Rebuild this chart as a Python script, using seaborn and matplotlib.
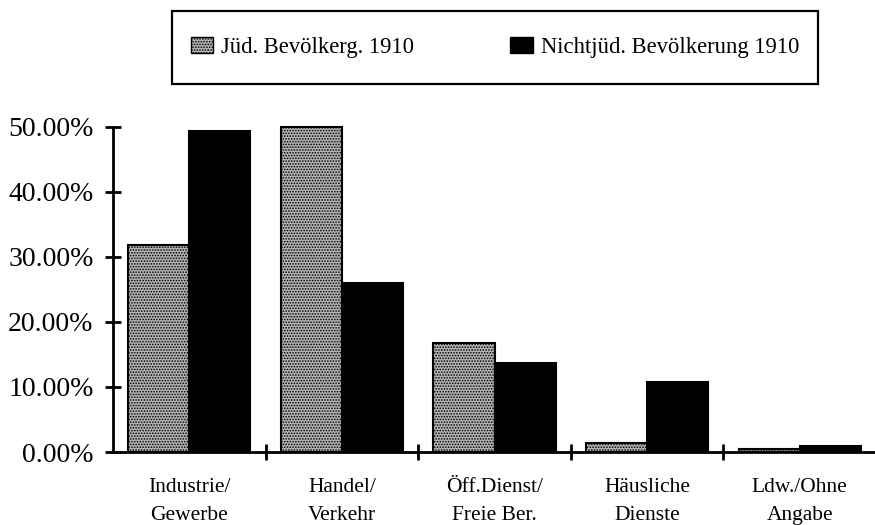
import matplotlib
matplotlib.use("Agg")
import matplotlib.pyplot as plt
from matplotlib.patches import Patch, Rectangle
import seaborn as sns
import pandas as pd
import numpy as np

categories = ["Industrie/\nGewerbe", "Handel/\nVerkehr", "Öff.Dienst/\nFreie Ber.",
              "Häusliche\nDienste", "Ldw./Ohne\nAngabe"]
series_names = ["Jüd. Bevölkerg. 1910", "Nichtjüd. Bevölkerung 1910"]
jued = [31.8, 50.0, 16.8, 1.4, 0.4]
nichtjued = [49.4, 26.0, 13.7, 10.7, 0.9]
y_ticks = [0, 10, 20, 30, 40, 50]
y_tick_labels = ["0.00%", "10.00%", "20.00%", "30.00%", "40.00%", "50.00%"]

df = pd.DataFrame({
    "cat": categories * 2,
    "series": [series_names[0]] * len(categories) + [series_names[1]] * len(categories),
    "value": jued + nichtjued,
})

sns.set_theme(style="white")
plt.rcParams["font.family"] = ["Liberation Serif", "DejaVu Serif"]
plt.rcParams["hatch.linewidth"] = 0.8
plt.rcParams["hatch.color"] = "black"

W, H = 875, 525
fig = plt.figure(figsize=(W / 100, H / 100), dpi=100)
ax = fig.add_axes([113 / W, 1 - 452 / H, 763 / W, (452 - 123.75) / H])

gray = "#b4b4b4"
hatch = "......"
sns.barplot(data=df, x="cat", y="value", hue="series", order=categories,
            hue_order=series_names, palette=[gray, "black"], width=0.8,
            edgecolor="black", linewidth=1.5, ax=ax, legend=False, saturation=1)

for bar in ax.containers[0]:
    bar.set_hatch(hatch)

ax.set_xlim(-0.5, len(categories) - 0.5)
ax.set_ylim(0, 50.5)
ax.set_xlabel("")
ax.set_ylabel("")
ax.set_yticks(y_ticks)
ax.set_yticklabels(y_tick_labels, fontsize=20, color="black")
ax.set_xticks(range(len(categories)))
ax.set_xticklabels(categories, fontsize=15.5, color="black", linespacing=1.65)
ax.set_xticks(np.arange(len(categories) - 1) - 0.5 + 1, minor=True)
ax.tick_params(axis="x", which="major", length=0, pad=19, bottom=True)
ax.tick_params(axis="x", which="minor", direction="inout", length=12, width=2,
               color="black", bottom=True)
ax.tick_params(axis="y", which="major", direction="inout", length=12, width=2,
               color="black", pad=8, left=True)

for s in ["top", "right"]:
    ax.spines[s].set_visible(False)
for s in ["left", "bottom"]:
    ax.spines[s].set_linewidth(2)
    ax.spines[s].set_color("black")
ax.spines["left"].set_bounds(0, 50)
ax.grid(False)

# legend frame
fig.patches.append(Rectangle((172 / W, 1 - 84 / H), (818 - 172) / W, (84 - 11) / H,
                             transform=fig.transFigure, fill=False,
                             edgecolor="black", linewidth=1.6))

handles = [Patch(facecolor=gray, edgecolor="black", hatch=hatch, linewidth=1),
           Patch(facecolor="black", edgecolor="black", linewidth=1)]
leg = fig.legend(handles, series_names, loc="center", ncol=2,
                 bbox_to_anchor=(495 / W, 1 - 47.5 / H),
                 fontsize=16.3, frameon=False,
                 handlelength=1.0, handleheight=0.75, handletextpad=0.35,
                 borderpad=0, borderaxespad=0, columnspacing=4.25)
for t in leg.get_texts():
    t.set_color("black")

fig.savefig("out.png", dpi=100)
